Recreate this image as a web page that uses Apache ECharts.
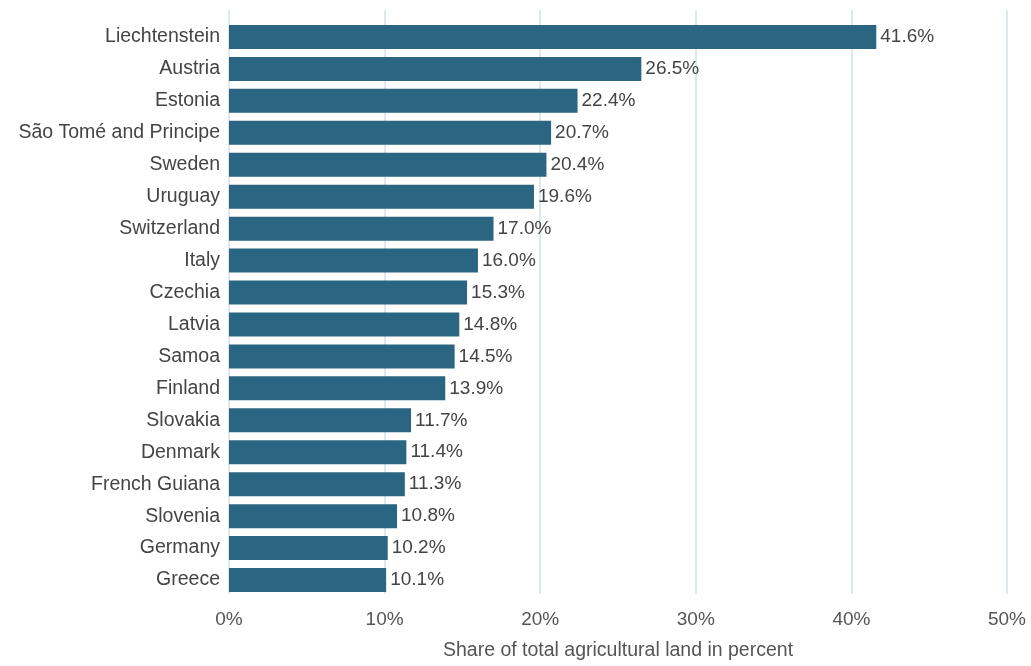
<!DOCTYPE html>
<html>
<head>
<meta charset="utf-8">
<script src="https://cdn.jsdelivr.net/npm/echarts@6/dist/echarts.min.js"></script>
<style>
html,body{margin:0;padding:0;background:#fff;}
#chart{width:1031px;height:666px;}
</style>
</head>
<body>
<div id="chart"></div>
<script>
const countries = ["Liechtenstein","Austria","Estonia","São Tomé and Principe","Sweden","Uruguay","Switzerland","Italy","Czechia","Latvia","Samoa","Finland","Slovakia","Denmark","French Guiana","Slovenia","Germany","Greece"];
const shares = [41.6,26.5,22.4,20.7,20.4,19.6,17.0,16.0,15.3,14.8,14.5,13.9,11.7,11.4,11.3,10.8,10.2,10.1];
const xTicks = [0,10,20,30,40,50];
const axisTitle = "Share of total agricultural land in percent";

const chart = echarts.init(document.getElementById('chart'), null, {renderer:'canvas'});
const font = 'Liberation Sans, Arial, sans-serif';
chart.setOption({
  animation:false,
  backgroundColor:'#ffffff',
  grid:[
    {left:229, right:24, top:21, bottom:70, containLabel:false},
    {left:229, right:24, top:10, bottom:61, containLabel:false}
  ],
  xAxis:[
    {gridIndex:0, type:'value', min:xTicks[0], max:xTicks[xTicks.length-1], interval:10,
     axisLine:{show:false}, axisTick:{show:false}, axisLabel:{show:false}, splitLine:{show:false}},
    {gridIndex:1, type:'value', min:xTicks[0], max:xTicks[xTicks.length-1], interval:10,
     axisLine:{show:false}, axisTick:{show:false},
     axisLabel:{formatter:v=>v+'%', color:'#555', fontSize:19, fontFamily:font, margin:16},
     splitLine:{show:true, lineStyle:{color:'#d3e2e8', width:1.5}},
     name:axisTitle, nameLocation:'middle', nameGap:47,
     nameTextStyle:{color:'#555', fontSize:19.5, fontFamily:font}}
  ],
  yAxis:[
    {gridIndex:0, type:'category', data:countries, inverse:true,
     axisLine:{show:false}, axisTick:{show:false},
     axisLabel:{color:'#444', fontSize:19.5, fontFamily:font, margin:9}},
    {gridIndex:1, type:'category', data:countries, inverse:true, show:false}
  ],
  series:[{
    type:'bar', xAxisIndex:0, yAxisIndex:0, data:shares, barWidth:24,
    itemStyle:{color:'#2a6682'},
    label:{show:true, position:'right', distance:4, formatter:p=>p.value.toFixed(1)+'%',
           color:'#444', fontSize:19, fontFamily:font}
  }]
});
</script>
</body>
</html>
